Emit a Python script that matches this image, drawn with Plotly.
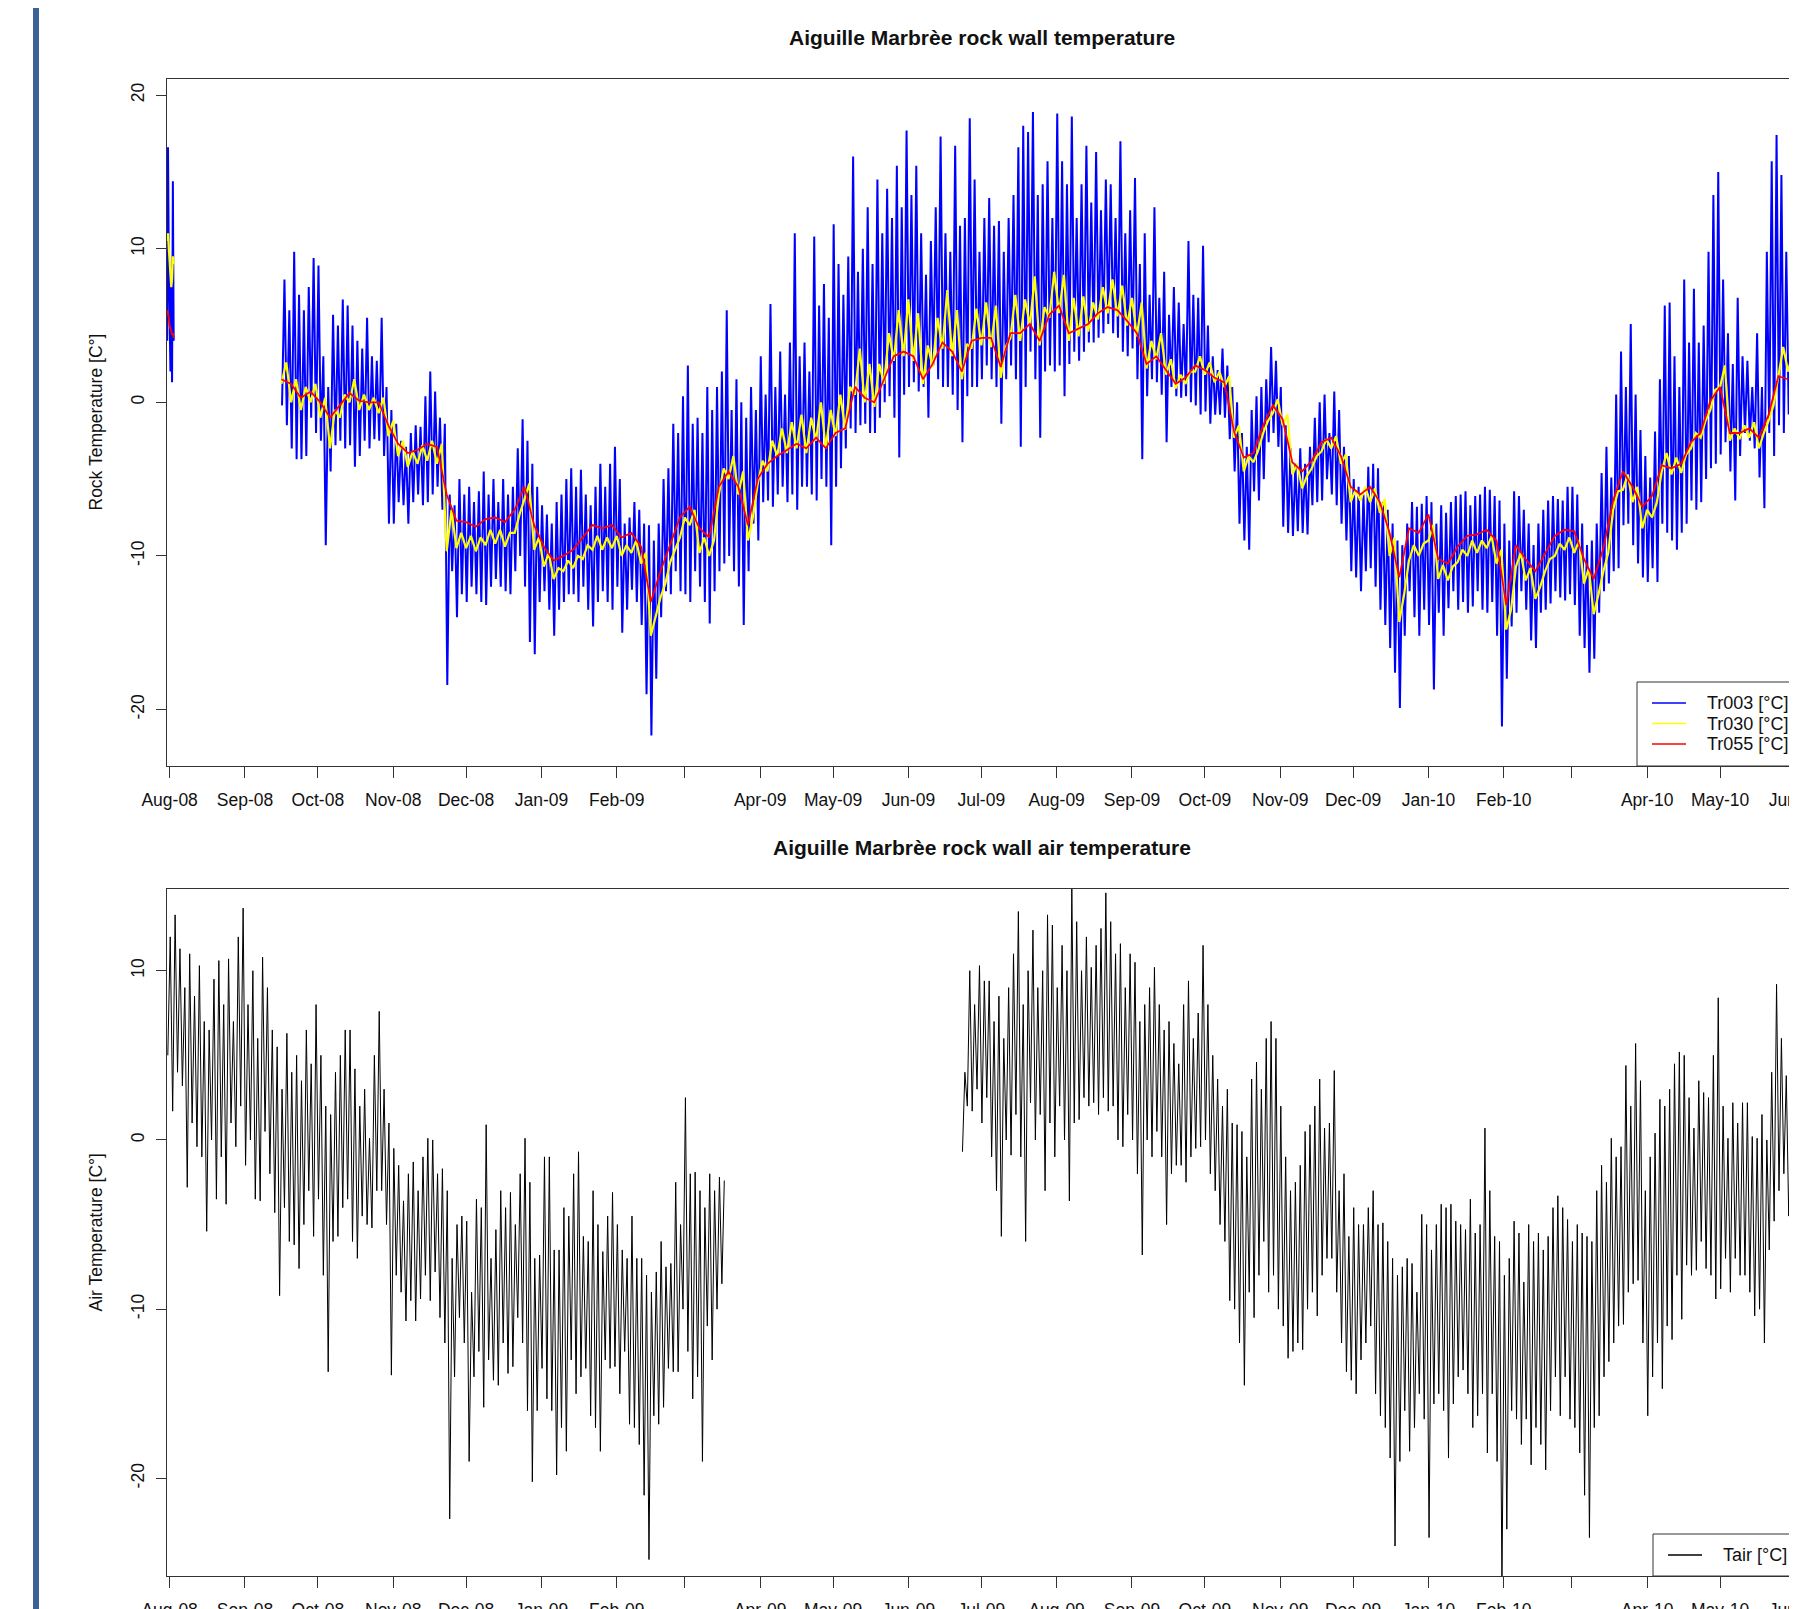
import pandas as pd
import plotly.graph_objects as go

# ---------------- Rock wall temperature (deg C) ----------------
# short first record, 8-hourly values starting 2008-07-31 00:00
tr003_first = [4.0, 16.6, 9.0, 5.0, 2.0, 8.0, 1.3, 14.4, 4.0]
tr030_first = [10.5, 11.0, 10.0, 9.0, 8.0, 7.5, 8.0, 9.5, 9.0]
tr055_first = [6.0, 5.8, 5.5, 5.0, 4.8, 4.6, 4.4, 4.5, 4.2]
FIRST_START = "2008-07-31 00:00"

# main record starting 2008-09-16: Tr003 daily low / high, one pair every 2 days
MAIN_START = "2008-09-16"
tr003_lo = [
    -0.2, -1.5, -3, -3.7, -3.7, -3.5, -1, -2, -2.5, -9.3, -4.5, -2.8, -2.5, -3, -2.8,
    -4.2, -3.5, -2.5, -3, -2.4, -2.5, -3.5, -7.9, -7.9, -6.5, -6.7, -7.9, -6.5, -6, -6.7,
    -6.5, -6, -5.5, -7, -18.4, -11, -14, -12.5, -13, -12, -12.5, -13, -13.2, -12, -11.5,
    -12, -12.3, -12.5, -11, -10, -12, -15.6, -16.4, -13, -12.3, -13.5, -15.2, -13.5, -13, -12.5,
    -12.5, -13, -12, -13.5, -14.6, -13, -12.3, -13, -13.5, -12, -15, -13.5, -12.2, -13, -14.5,
    -19, -21.7, -18, -14, -12.3, -12.5, -11, -12.3, -12.5, -13, -11, -12, -13, -14.4, -12.3,
    -11, -10.5, -10, -11, -12, -14.5, -11, -7.9, -9, -6.5, -6.4, -6.8, -6, -5.5, -6.5,
    -6, -7, -5.5, -5.5, -6, -6.4, -5, -5.5, -9.3, -5.5, -4.3, -3, -1.7, -2, -1.5,
    -1.4, -2, -2, -1, 0, 0.4, -1, -3.6, 0.5, 1, 1.3, 0.7, 1, -1, 2.4,
    1.5, 1, 1, 0.5, -0.5, -2.6, 0.4, 1, 1, 1.5, 2.4, 1.5, 1, -1.4, 1.5,
    2.4, 1.5, -2.9, 1, 3.3, 1.5, -2.3, 2, 2.4, 2, 2.4, 0.4, 2.5, 3.3, 2.7,
    3.3, 3.9, 3.9, 4.2, 4.5, 5.1, 4.5, 4.2, 3.3, 3, 3.5, 1.5, -3.7, 0.4, 1.5,
    1.3, 0.5, -2.6, 1, 0.4, 0.3, 0.4, 0, -0.2, -0.8, -0.6, -1.4, -0.8, -0.8, -1,
    -2.4, -4.5, -7.9, -9, -9.6, -5.8, -6.4, -5, -2.6, -2, -2.9, -8.1, -8.5, -8.7, -8.4,
    -8.5, -8.6, -6.7, -6.5, -6.4, -5, -6, -6.7, -7.9, -9, -11, -11.4, -12.3, -11, -10.8,
    -12, -13.5, -14.5, -16, -17.6, -19.9, -15.2, -12.3, -14, -15.2, -13.5, -14.5, -18.7, -13.7, -15.2,
    -13.4, -12.3, -13.5, -13, -13.7, -13.3, -12.3, -13.5, -13.7, -13, -15.2, -21.1, -18, -14.6, -13.7,
    -12.3, -13.5, -15.5, -16, -13.7, -13.5, -13.1, -12.3, -12.7, -12.9, -12.5, -13.2, -15.2, -16, -17.6,
    -16.7, -13.7, -12.3, -11.8, -11, -10.8, -8, -7.9, -9.3, -10.5, -11.4, -11.7, -10.8, -11.7, -7.9,
    -8.5, -9, -9.6, -8.5, -7.9, -6.4, -7, -6.5, -5, -4.3, -4, -3.4, -2.6, -4.5, -6.4,
    -3.5, -2, -2.5, -3, -4.9, -6.9, -2, -3.5, -1.5, -2, -0.8, -3.7,
]
tr003_hi = [
    8, 6, 9.8, 7, 6, 7.5, 9.4, 8.9, 3, 1, 5.7, 5, 6.7, 6.3, 5,
    4, 3.5, 5.5, 3, 2.7, 5.5, 1, -0.5, -1.4, -2.5, -2.9, -2, -1.5, -1.6, 0.4,
    2, 0.7, -1, -1.4, -6, -6.7, -5, -6, -5.5, -6.5, -5.8, -4.5, -6, -5, -6.5,
    -5, -6, -5.5, -3, -1.1, -2.5, -4, -5.5, -6.7, -7.3, -7.9, -6.5, -6, -5, -4.3,
    -5.5, -4.4, -6, -6.7, -5.5, -4, -5.5, -4, -2.9, -5, -7.9, -7.5, -6.5, -7, -7.9,
    -8, -9, -7.9, -5, -4.3, -1.4, -2, 0.4, 2.4, -1.4, -1, -2, 1, -0.5, 1,
    2, 6, -0.5, 1.5, 0, -1, 1, -0.5, 3, 0.5, 6.4, 1, 3.3, 0.5, 3.9,
    11, 3, 3.9, 2, 10.8, 6.3, 7.7, 5.5, 11.6, 9, 7, 9.5, 16, 8.5, 10,
    12.7, 9, 14.5, 11, 13.9, 12, 15.4, 12.7, 17.7, 13.5, 15.4, 11, 8.3, 10.5, 12.7,
    17.3, 11, 9.8, 16.7, 11.5, 12, 18.5, 14.5, 9.8, 12, 13.3, 11.5, 11.8, 9.8, 12,
    13.5, 16.6, 18, 17.6, 18.9, 13.5, 14.2, 15.7, 12, 18.8, 15.7, 14.2, 18.6, 12, 14.2,
    16.7, 13, 16.3, 12.5, 14.5, 14.2, 12, 17, 11, 12.5, 14.6, 9, 11, 7, 12.7,
    6.8, 8.5, 5.7, 7.5, 6.5, 5.1, 10.5, 7, 6.8, 10.2, 5, 3, 2.1, 3.5, 2.4,
    1, 0, -2, -2.9, -0.5, 0.4, 1, 1.5, 3.6, 2.7, 1, -1.5, -3, -4, -3,
    -4, -2.9, -1, 0, 0.5, -2, 0.7, -0.5, -2.9, -3.5, -5, -5.5, -6, -4.2, -4,
    -4.3, -6.5, -7, -7.9, -9, -9.3, -7.9, -6.5, -6.8, -6.6, -6.1, -6.5, -7.9, -6.7, -7.2,
    -6.5, -6.1, -6, -5.8, -6.7, -6.1, -6, -5.5, -5.7, -6.1, -6.4, -7.9, -9, -5.8, -6.1,
    -7, -7.9, -9.3, -7.9, -7, -6.4, -6.1, -6.3, -6.4, -5.5, -5.5, -6, -7.9, -9.3, -9,
    -7.9, -4.6, -2.9, -4.9, 0.5, 3.3, 1, 5.1, 0.5, -1.8, -3.5, -4.9, -1.9, 1.5, 6.3,
    6.5, 3, 1, 8, 3.9, 7.4, 3.9, 5, 9.8, 13.5, 15, 8, 4.5, 2.5, 6.8,
    3, 2.7, 1, 4.5, 1, 9.8, 15.7, 17.4, 14.8, 9.8, 6.8, 5.5,
]

# Tr030 low / high and Tr055, one value every 4 days from 2008-09-16
tr030_lo = [
    1.2, 0, -0.5, 0, -1, -3, -1, 0, -0.5, -0.5, -0.7, -2.2, -3.5, -4.2, -4,
    -3.8, -4, -9.7, -9.5, -9.5, -9.7, -9.3, -9.2, -9.4, -8.5, -6.3, -9.6, -10.7, -11.5, -11,
    -10.8, -10.2, -9.6, -9.6, -9.5, -10, -9.8, -10.5, -15.2, -12.7, -10.4, -8.8, -8, -9.8, -10,
    -6, -5, -6, -9, -5.3, -4.5, -3.5, -3.3, -3, -3.3, -2.5, -3, -2.2, -1.8, 0.5,
    0, -0.3, 1.2, 2.7, 3, 2.7, 1.2, 2.3, 3.5, 3, 1.5, 3.5, 3.7, 3.6, 1.6,
    4.2, 4, 5, 3.7, 5.5, 5.8, 4, 4.3, 4.6, 5.4, 5.8, 5.6, 5, 4.3, 2.2,
    2.8, 1.8, 0.9, 1.2, 2, 1.8, 1.3, 1, -2.3, -4.5, -3.9, -2, -0.7, -1.5, -4.7,
    -5.6, -4.3, -3.2, -3, -4, -6.5, -6.4, -6.5, -7.2, -10, -14.3, -10.3, -10, -9, -11.5,
    -11.6, -10.4, -10, -9.8, -9.5, -10.5, -14.8, -10.7, -11.6, -12.8, -11, -10, -9.6, -9.8, -11.8,
    -13.8, -11, -7, -5.7, -6.5, -8.2, -7.5, -4.5, -4.7, -4.6, -3, -2.3, -0.5, 1, -2.5,
    -2.4, -2.3, -3, -1.2, 1.8, 2,
]
tr030_hi = [
    2.6, 1.5, 1, 1.2, 0.3, -0.5, 0.5, 1.5, 0.5, 0.3, 0.3, -1.2, -2.5, -3.2, -2.8,
    -2.5, -2.7, -7, -8.5, -8.7, -8.8, -8.3, -8.3, -8.5, -7.3, -5.3, -8.8, -9.8, -10.8, -10.3,
    -10, -9.3, -8.7, -8.8, -8.7, -9.3, -9, -9.8, -14, -11.8, -9.6, -7.5, -7, -8.8, -9,
    -4.3, -3.5, -4.5, -7.5, -3.8, -2.5, -1.7, -1.3, -0.8, -1, 0, -0.5, 0.5, 1, 3.5,
    2.5, 2.5, 4.5, 6, 6.7, 5.8, 3.7, 5.5, 7.3, 6, 3.8, 6.1, 6.5, 6.3, 3.6,
    7, 6.7, 8.2, 6.2, 8.5, 8.3, 6.8, 6.9, 6.5, 7.5, 8, 7.6, 6.8, 6.5, 4,
    4.5, 2.8, 1.8, 2, 3, 2.6, 2, 1.7, -1.5, -3.5, -3.1, -1.2, 0.2, -0.8, -4,
    -4.8, -3.5, -2.4, -2.2, -3.4, -5.7, -5.5, -5.6, -6.3, -8.8, -12.5, -9.3, -9.2, -8, -10.6,
    -10.7, -9.6, -9, -9, -8.7, -9.6, -13.5, -9.8, -10.8, -12, -10.2, -9.2, -8.8, -9, -10.8,
    -12.5, -9.8, -5.8, -4.7, -5.5, -7, -6.5, -3.3, -3.6, -3.4, -2, -1.2, 0.8, 2.4, -1.7,
    -1.5, -1.3, -2, -0.2, 3.6, 3.3,
]
tr055 = [
    1.5, 1.2, 0.3, 0.7, 0, -1, -0.2, 0.6, 0.1, 0, 0, -1.5, -2.7, -3.3, -3.1,
    -2.7, -2.9, -6, -7.7, -7.8, -8.1, -7.6, -7.5, -7.8, -7, -5.5, -8, -9.4, -10.3, -10,
    -9.6, -8.8, -8, -8.2, -8, -8.8, -8.5, -9.4, -13, -11, -9.3, -7.5, -6.8, -8.2, -8.8,
    -5.5, -4.5, -5.5, -8, -5, -4, -3.5, -3.1, -2.7, -3, -2.3, -3, -2, -1.7, 1,
    0.3, 0, 1.5, 3, 3.3, 3, 1.5, 2.5, 3.9, 3.3, 2, 4, 4.2, 4.2, 2.3,
    4.5, 4.5, 5.1, 4, 5.7, 6.3, 4.5, 4.8, 5.1, 5.8, 6.2, 6, 5.3, 4.5, 2.5,
    3, 2.1, 1.2, 1.6, 2.4, 2.1, 1.6, 1.3, -1.9, -3.6, -3.3, -1.5, -0.2, -1.1, -3.9,
    -4.5, -3.8, -2.6, -2.3, -3.5, -5.5, -6, -5.5, -6.5, -8.5, -11.4, -8.2, -8.5, -7.3, -10.2,
    -10.5, -9.4, -8.7, -8.6, -8.3, -9, -13.2, -9.3, -10.2, -11, -9.8, -8.7, -8.3, -8.4, -10.2,
    -11.5, -9.5, -6.4, -4.5, -5.5, -6.8, -6.1, -4.1, -4.3, -4, -2.6, -2, 0.1, 1, -2,
    -2, -1.7, -2.3, -0.8, 1.7, 1.5,
]

# ---------------- Air temperature (deg C), daily low / high every 2 days ----------------
TAIR1_START = "2008-07-31"
tair1_lo = [
    5, 1.7, 4, 3.2, -2.8, 1, -0.4, -1, -5.4, 0, -3.5, -1, -3.8, 1, -0.4,
    2, -1.5, 0, -3.5, -3.6, 0.5, -2, -4.3, -9.2, -4, -6, -6.2, -7.6, -5, -3,
    -5.7, -3.5, -8, -13.7, -6, -5.7, -4, -3.5, -6, -7, -4.5, -5, -5.2, -3, -3,
    -5, -13.9, -8, -9, -10.7, -9.5, -10.7, -9.4, -8, -9.5, -7.8, -10.5, -12, -22.4, -14,
    -10.5, -12, -19, -14, -12.5, -15.8, -13, -14.2, -14.5, -12, -13.8, -13.4, -10.5, -12, -16,
    -20.2, -16, -13.5, -15.3, -16, -19.8, -17, -18.4, -13, -15, -14, -13.5, -16.3, -17, -18.4,
    -13, -13.5, -13.4, -15, -12.5, -16.8, -17, -18, -21, -24.8, -16.3, -16.8, -15.8, -13.5, -13.7,
    -13.7, -10, -12.5, -15.3, -14, -19, -11, -13, -10, -8.5,
]
tair1_hi = [
    12, 13.3, 11.3, 9, 11, 8.5, 10.3, 7, 6.5, 9.5, 10.6, 8, 10.7, 7, 12,
    13.7, 8, 10, 6, 10.8, 9, 6.5, 5.5, 3, 6.3, 4, 5, 3.5, 6.5, 4.5,
    8, 5, 2, 1.5, 4, 5, 6.5, 6.5, 4.2, 2, 3, 0.1, 5, 7.6, 3,
    1, -0.5, -1.5, -3.6, -2, -1.3, -3, -1, 0.1, 0, -2, -1.7, -3, -7, -5,
    -4.5, -4.8, -9, -3.5, -4, 0.9, -7, -5.3, -3, -4, -3.1, -5, -2, 0.1, -2.5,
    -7, -6.8, -1, -1, -6.5, -6.5, -4, -4.5, -2, -0.7, -5.7, -6, -3, -5, -6.6,
    -4.5, -3.1, -5, -6.5, -7, -4.5, -7, -7, -8, -9, -7.8, -6, -7.5, -7.3, -2.5,
    -5, 2.5, -2, -1.9, -3, -4, -2, -3, -2.2, -2.4,
]
TAIR2_START = "2009-06-23"
tair2_lo = [
    -0.7, 2, 1.7, 3, 1, 2.5, -1, -3, -5.7, 0, -0.9, 1.5, -1, -6, 2.2,
    0, 1.5, -3, 1, -1, 2, 0, -3.6, 1, 1.2, 2.5, 2, 2.2, 1.5, 2.5,
    1.7, 2, 0, -0.4, 1.5, 0, -2, -6.8, 0, -1, 0.5, -1, -5, -2, -1.5,
    -1.5, -2.5, -1, -0.5, -0.4, 0, -2, -3, -5, -6, -9.5, -10, -12, -14.5, -9,
    -10.5, -8, -6, -9, -8, -10, -11, -12.9, -12.5, -12, -12.4, -10, -9, -10.4, -8,
    -7, -7, -9, -12, -13.7, -14.2, -15, -13, -12, -11, -15, -16.3, -17, -18.8, -24,
    -19, -16, -18.4, -17, -15, -16.5, -23.5, -15.6, -15, -16, -18.8, -15.6, -14, -13.6, -15,
    -17, -16.3, -15, -18.5, -15, -19, -26.5, -23, -16, -16.5, -18, -16.5, -19.2, -17, -18,
    -19.5, -16, -14, -16.3, -14, -16.5, -17, -18.5, -21, -23.5, -17, -16.3, -14, -13.1, -12,
    -11, -10.9, -9, -8.5, -8.3, -12, -16.3, -14, -12, -14.7, -11, -11.8, -8, -10.6, -7.4,
    -8, -7.7, -6, -7.6, -8, -9.4, -8.8, -7, -9, -7, -8, -8, -9, -10.4, -10,
    -12, -6.5, -4.8, -3, -2, -4.5, -8.8,
]
tair2_hi = [
    4, 10, 8, 10.3, 9.4, 9.4, 7, 8.5, 6, 9, 11, 13.5, 8, 10, 12.4,
    9, 10, 13.3, 12.7, 9, 11.5, 10, 15, 12.9, 10, 12, 10.2, 11.5, 12.5, 14.6,
    12.9, 11, 11.6, 9, 11, 10.5, 7, 8, 9, 10.2, 8, 6.5, 7, 5.7, 4.5,
    8, 9.4, 6, 7.5, 11.5, 8, 5, 3.6, 2, 3, 1, 0.9, 0.5, -1, 3.6,
    4.6, 3, 6, 7, 6, 2, -1, -3, -2.5, -1.5, 0.5, 0.9, 2, 3.6, 0.7,
    1, 4.1, -3, -2, -5.7, -4, -5, -5, -4, -3, -5, -4.9, -6, -7, -8,
    -7.5, -7, -7.3, -9, -4.4, -5, -6.5, -5, -3.8, -4, -3.8, -4.8, -5, -5.3, -3.5,
    -5.5, -5, 0.7, -3, -5.7, -6, -8, -7, -4.8, -5.5, -8.4, -5, -6, -5.5, -6.5,
    -5.7, -4, -3.3, -4, -4.7, -6, -5, -5.5, -5.7, -6, -3, -1.5, -2.5, 0.1, -1,
    -0.4, 4.4, 2, 5.7, 3.5, -3, -1, 0.4, 2.4, 2, 3, 4.5, 5.2, 5, 2.5,
    0.7, 3.5, 2.8, 2.5, 5, 8.4, 2, 0.1, 2.2, 1, 2.2, 2.2, 0.2, 0.1, 1.5,
    0, 4, 9.2, 6, 3.8, 2, 0.4,
]

# ---------------- axes / labels ----------------
month_ticks = list(pd.date_range("2008-08-01", "2010-06-01", freq="MS"))
month_text = ["" if d.month == 3 else d.strftime("%b-%y") for d in month_ticks]
rock_ticks = [-20, -10, 0, 10, 20]
air_ticks = [-20, -10, 0, 10]
X_RANGE = ["2008-07-30 22:00", "2010-06-01 06:00"]
ROCK_RANGE = [-23.68, 21.05]
AIR_RANGE = [-25.77, 14.83]

TITLE_ROCK = "Aiguille Marbrèe rock wall temperature"
TITLE_AIR = "Aiguille Marbrèe rock wall air temperature"
YLAB_ROCK = "Rock Temperature [C°]"
YLAB_AIR = "Air Temperature [C°]"
LEG_ROCK = ["Tr003 [°C]", "Tr030 [°C]", "Tr055 [°C]"]
LEG_AIR = ["Tair [°C]"]
COL_ROCK = ["#0000FF", "#FFFF00", "#FF0000"]
COL_AIR = ["#000000"]


def zigzag(start, step_days, lo, hi, half_shift_h, offset_h=0):
    t0 = pd.Timestamp(start)
    xs, ys = [], []
    for i in range(min(len(lo), len(hi))):
        base = t0 + pd.Timedelta(days=step_days * i) + pd.Timedelta(hours=offset_h)
        xs += [base, base + pd.Timedelta(hours=half_shift_h)]
        ys += [lo[i], hi[i]]
    return xs, ys


def regular(start, step_hours, vals):
    t0 = pd.Timestamp(start)
    return [t0 + pd.Timedelta(hours=step_hours * i) for i in range(len(vals))], list(vals)


def joined(a, b):
    gap_x = a[0][-1] + pd.Timedelta(hours=12)
    return a[0] + [gap_x] + b[0], a[1] + [None] + b[1]


bx, by = joined(regular(FIRST_START, 8, tr003_first), zigzag(MAIN_START, 2, tr003_lo, tr003_hi, 24, 6))
yx, yy = joined(regular(FIRST_START, 8, tr030_first), zigzag(MAIN_START, 4, tr030_lo, tr030_hi, 48, 0))
rx, ry = joined(regular(FIRST_START, 8, tr055_first), regular(MAIN_START, 96, tr055))
ax_, ay_ = joined(zigzag(TAIR1_START, 2, tair1_lo, tair1_hi, 24, 6), zigzag(TAIR2_START, 2, tair2_lo, tair2_hi, 24, 6))

fig = go.Figure()
fig.add_trace(go.Scatter(x=bx, y=by, mode="lines", name=LEG_ROCK[0], line=dict(color=COL_ROCK[0], width=2.0),
                         xaxis="x", yaxis="y", showlegend=False))
fig.add_trace(go.Scatter(x=yx, y=yy, mode="lines", name=LEG_ROCK[1], line=dict(color=COL_ROCK[1], width=2.2),
                         xaxis="x", yaxis="y", showlegend=False))
fig.add_trace(go.Scatter(x=rx, y=ry, mode="lines", name=LEG_ROCK[2], line=dict(color=COL_ROCK[2], width=1.8),
                         xaxis="x", yaxis="y", showlegend=False))
fig.add_trace(go.Scatter(x=ax_, y=ay_, mode="lines", name=LEG_AIR[0], line=dict(color=COL_AIR[0], width=1.0),
                         xaxis="x2", yaxis="y2", showlegend=False))

# the page adds an 8 px body margin, so figure coords = screen coords - 8
W, H = 1789, 1601
XL, XR = 159, 1788
T1, B1 = 71, 758
T2, B2 = 881, 1568
FONT = "Liberation Sans, Arial, Helvetica, sans-serif"
FS = 17.5


def px(x):
    return x / W


def py(y):
    return 1 - y / H


xcommon = dict(type="date", range=X_RANGE, tickmode="array", tickvals=month_ticks, ticktext=month_text,
               showgrid=False, zeroline=False, showline=True, mirror=True, linecolor="#333", linewidth=1,
               ticks="outside", ticklen=11, tickcolor="#333", tickwidth=1, ticklabelstandoff=7,
               ticklabeloverflow="allow", automargin=False,
               tickfont=dict(family=FONT, size=FS, color="#111"), domain=[px(XL), px(XR)])
ycommon = dict(showgrid=False, zeroline=False, showline=True, mirror=True, linecolor="#333", linewidth=1,
               ticks="outside", ticklen=10, tickcolor="#333", tickwidth=1, tickangle=-90, ticklabelstandoff=5,
               ticklabeloverflow="allow", automargin=False,
               tickfont=dict(family=FONT, size=FS, color="#111"), tickmode="array")

shapes = [dict(type="rect", xref="paper", yref="paper", x0=px(25), x1=px(31), y0=-0.01, y1=1.01,
               fillcolor="rgb(61,99,150)", line=dict(width=0))]
annotations = []
for txt, yc in [(TITLE_ROCK, 29), (TITLE_AIR, 839)]:
    annotations.append(dict(text="<b>%s</b>" % txt, xref="paper", yref="paper", x=px((XL + XR) / 2), y=py(yc),
                            xanchor="center", yanchor="middle", showarrow=False,
                            font=dict(family=FONT, size=21, color="#111")))
for txt, yc in [(YLAB_ROCK, (T1 + B1) / 2), (YLAB_AIR, (T2 + B2) / 2)]:
    annotations.append(dict(text=txt, xref="paper", yref="paper", x=px(87), y=py(yc), textangle=-90,
                            xanchor="center", yanchor="middle", showarrow=False,
                            font=dict(family=FONT, size=FS, color="#111")))


# legends (box, sample lines, labels)
def legend(box_left, box_top, box_bottom, rows, labels, colors):
    shapes.append(dict(type="rect", xref="paper", yref="paper", x0=px(box_left), x1=px(XR),
                       y0=py(box_bottom), y1=py(box_top), line=dict(color="#333", width=1),
                       fillcolor="white", layer="above"))
    for yc, lab, col in zip(rows, labels, colors):
        shapes.append(dict(type="line", xref="paper", yref="paper", x0=px(box_left + 15), x1=px(box_left + 49),
                           y0=py(yc), y1=py(yc), line=dict(color=col, width=1.6), layer="above"))
        annotations.append(dict(text=lab, xref="paper", yref="paper", x=px(box_left + 68), y=py(yc),
                                xanchor="left", yanchor="middle", showarrow=False,
                                font=dict(family=FONT, size=18, color="#111")))


legend(1629, 674, B1, [695, 715.5, 736], LEG_ROCK, COL_ROCK)
legend(1645, 1526, B2, [1547], LEG_AIR, COL_AIR)

fig.update_layout(
    width=W, height=H, autosize=False,
    margin=dict(l=0, r=0, t=0, b=0, pad=0),
    paper_bgcolor="white", plot_bgcolor="white",
    xaxis=dict(xcommon, anchor="y"),
    yaxis=dict(ycommon, range=ROCK_RANGE, tickvals=rock_ticks, ticktext=[str(v) for v in rock_ticks],
               domain=[py(B1), py(T1)], anchor="x"),
    xaxis2=dict(xcommon, anchor="y2"),
    yaxis2=dict(ycommon, range=AIR_RANGE, tickvals=air_ticks, ticktext=[str(v) for v in air_ticks],
                domain=[py(B2), py(T2)], anchor="x2"),
    shapes=shapes, annotations=annotations, showlegend=False,
)

fig.write_html("out.html")
